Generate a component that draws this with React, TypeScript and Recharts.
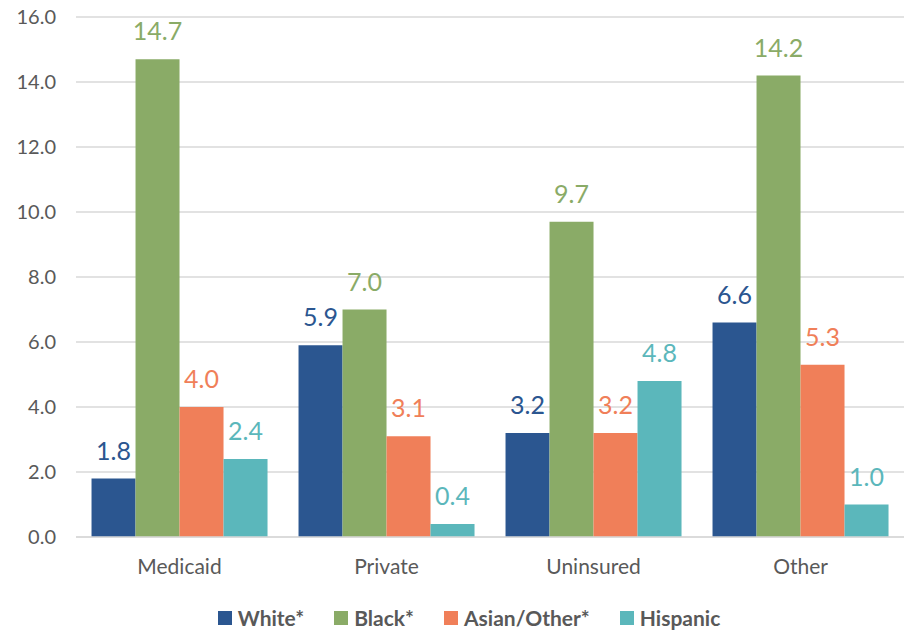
import React from 'react';
import {
    Bar,
    BarChart,
    CartesianGrid,
    LabelList,
    Legend,
    XAxis,
    YAxis
} from "recharts";

const categories = ['Medicaid', 'Private', 'Uninsured', 'Other'];
const white = [1.8, 5.9, 3.2, 6.6];
const black = [14.7, 7.0, 9.7, 14.2];
const asianOther = [4.0, 3.1, 3.2, 5.3];
const hispanic = [2.4, 0.4, 4.8, 1.0];
const yTicks = [0, 2, 4, 6, 8, 10, 12, 14, 16];

const series = [
    { key: 'white', name: 'White*', color: '#2b5690' },
    { key: 'black', name: 'Black*', color: '#8aab67' },
    { key: 'asian', name: 'Asian/Other*', color: '#f07f59' },
    { key: 'hispanic', name: 'Hispanic', color: '#5bb7bb' },
];

const data = categories.map((name, i) => ({
    name,
    white: white[i],
    black: black[i],
    asian: asianOther[i],
    hispanic: hispanic[i],
}));

const FONT = 'Lato, "Open Sans", sans-serif';

const CustomLegend = () => (
    <div style={{ display: 'flex', justifyContent: 'center', gap: 30, fontFamily: FONT, paddingTop: 24 }}>
        {series.map(s => (
            <div key={s.key} style={{ display: 'flex', alignItems: 'center', height: 24 }}>
                <div style={{ width: 14, height: 14, background: s.color, marginRight: 6 }} />
                <span style={{ fontSize: 21, lineHeight: '24px', fontWeight: 700, color: '#595959' }}>{s.name}</span>
            </div>
        ))}
    </div>
);

export default function App() {
    return (
        <div style={{ position: 'absolute', left: 0, top: 0, background: '#fff' }}>
            <BarChart
                width={904}
                height={632}
                data={data}
                margin={{ top: 17, right: 0, bottom: 0, left: 0 }}
                barCategoryGap="7.5%"
                barGap={0}
            >
                <CartesianGrid vertical={false} stroke="#d9d9d9" strokeWidth={1.5} />
                <XAxis
                    dataKey="name"
                    height={45}
                    tickLine={false}
                    axisLine={{ stroke: '#d9d9d9', strokeWidth: 1.5 }}
                    tickMargin={16}
                    tick={{ fill: '#595959', fontSize: 21, fontFamily: FONT }}
                />
                <YAxis
                    width={76}
                    domain={[0, 16]}
                    ticks={yTicks}
                    tickLine={false}
                    axisLine={false}
                    tickMargin={14}
                    tickFormatter={(v: number) => v.toFixed(1)}
                    tick={{ fill: '#595959', fontSize: 20, fontFamily: FONT }}
                />
                <Legend height={50} verticalAlign="bottom" content={<CustomLegend />} wrapperStyle={{ left: 17, height: 50, overflow: 'visible' }} />
                {series.map(s => (
                    <Bar key={s.key} dataKey={s.key} name={s.name} fill={s.color} isAnimationActive={false}>
                        <LabelList
                            dataKey={s.key}
                            position="top"
                            offset={19}
                            formatter={(v: number) => v.toFixed(1)}
                            style={{ fill: s.color, fontSize: 25, fontFamily: FONT }}
                        />
                    </Bar>
                ))}
            </BarChart>
        </div>
    );
}
